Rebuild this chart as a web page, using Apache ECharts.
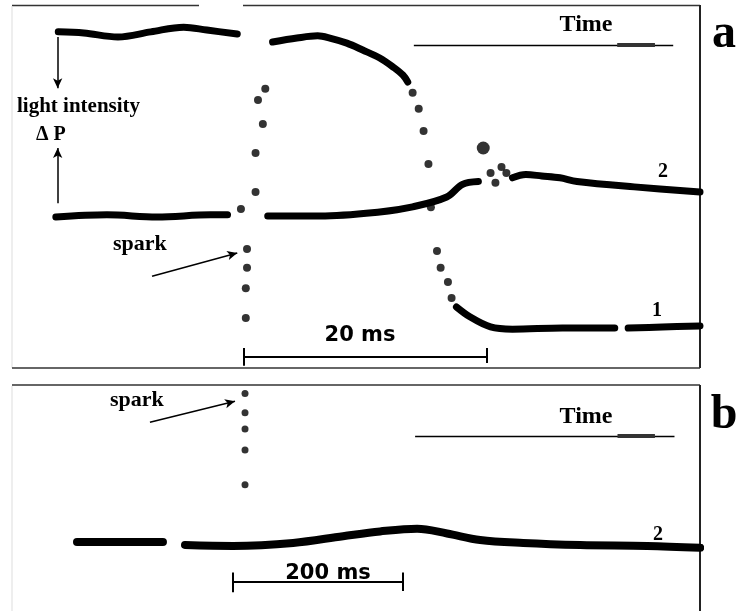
<!DOCTYPE html>
<html>
<head>
<meta charset="utf-8">
<script src="https://cdn.jsdelivr.net/npm/echarts@6/dist/echarts.min.js"></script>
<style>
html,body{margin:0;padding:0;background:#fff;}
#chart{width:736px;height:611px;}
</style>
</head>
<body>
<div id="chart"></div>
<script>
// ---------- Panel a (time in ms, light intensity in arbitrary units) ----------
const trace1BeforeA = [[-15.2,92.6],[-13.1,92.3],[-10.3,91.2],[-7.6,92.6],[-4.9,93.9],[-3.0,93.1],[-0.5,92.0]];
const trace1AfterA  = [[2.4,89.8],[4.4,90.9],[6.1,91.5],[7.1,90.9],[8.5,89.5],[9.8,87.6],[11.2,85.4],[12.3,82.9],[13.1,80.7],[13.5,78.8]];
const trace1FallDotsA = [[13.9,75.8],[14.4,71.4],[14.8,65.3],[15.2,56.2],[15.9,32.2],[16.2,27.6],[16.8,23.7],[17.1,19.3]];
const trace1LowA  = [[17.5,16.8],[18.6,14.1],[20.3,11.3],[22.1,10.7],[26.2,11.0],[30.5,11.0]];
const trace1LowA2 = [[31.6,11.0],[34.4,11.3],[37.5,11.6]];
const sparkDotsA  = [[1.8,76.9],[1.2,73.8],[1.6,67.2],[1.0,59.2],[1.0,48.5],[-0.2,43.8],[0.3,32.8],[0.3,27.6],[0.2,22.0],[0.2,13.8]];
const trace2BeforeA = [[-15.4,41.6],[-11.2,42.2],[-7.1,41.6],[-2.7,42.2],[-1.3,42.2]];
const trace2AfterA  = [[2.0,41.9],[6.3,41.9],[11.2,43.0],[13.9,44.4],[16.7,47.1],[18.0,50.6],[19.3,51.4]];
const trace2DotsA   = [[15.4,44.3],[20.3,53.7],[20.7,51.0],[21.2,55.4],[21.6,53.7]];
const trace2BigDotA = [[19.7,60.6]];
const trace2TailA   = [[22.1,52.4],[23.2,53.3],[24.5,52.9],[26.0,52.4],[27.4,51.4],[32.1,49.9],[37.5,48.5]];
const scaleBarA = [0, 20];      // ms
const timeArrowA = [14, 35.3];  // ms

// ---------- Panel b ----------
const trace2BeforeB = [[-197.6,30.5],[-96.5,30.5]];
const trace2AfterB  = [[-70.6,29.2],[-14.1,28.8],[56.5,30.1],[115.3,33.1],[158.8,35.2],[202.4,36.4],[237.6,34.3],[276.5,31.4],[327.1,30.1],[394.1,29.2],[472.9,28.8],[535.3,28.0]];
const sparkDotsB    = [[0,96.2],[0,87.7],[0,80.5],[0,71.2],[0,55.9]];
const scaleBarB = [-15, 185];   // ms
const timeArrowB = [200, 505];  // ms

const SERIF = '"Liberation Serif","Times New Roman",serif';
const SANS = '"DejaVu Sans",Verdana,sans-serif';

function lineSeries(data, xi, w) {
  return {
    type: 'line', data: data, xAxisIndex: xi, yAxisIndex: xi,
    smooth: 0.35, showSymbol: false, silent: true,
    lineStyle: {color: '#000', width: w, cap: 'round', join: 'round'}
  };
}
function dotSeries(data, xi, size) {
  return {
    type: 'scatter', data: data, xAxisIndex: xi, yAxisIndex: xi,
    symbolSize: size, silent: true, itemStyle: {color: '#000'}
  };
}
function seg(x1, y1, x2, y2, style) {
  const a = {coord: [x1, y1]};
  if (style) a.lineStyle = style;
  return [a, {coord: [x2, y2]}];
}

const chart = echarts.init(document.getElementById('chart'));
chart.setOption({
  animation: false,
  backgroundColor: '#fff',
  grid: [
    {left: 12, top: 5, width: 688, height: 363},
    {left: 12, top: 385, width: 688, height: 236}
  ],
  xAxis: [
    {type: 'value', gridIndex: 0, min: -19, max: 37.5, show: false},
    {type: 'value', gridIndex: 1, min: -274, max: 535, show: false}
  ],
  yAxis: [
    {type: 'value', gridIndex: 0, min: 0, max: 100, show: false},
    {type: 'value', gridIndex: 1, min: 0, max: 100, show: false}
  ],
  series: [
    lineSeries(trace1BeforeA, 0, 7),
    lineSeries(trace1AfterA, 0, 7),
    lineSeries(trace1LowA, 0, 7),
    lineSeries(trace1LowA2, 0, 7),
    lineSeries(trace2BeforeA, 0, 7),
    lineSeries(trace2AfterA, 0, 7),
    lineSeries(trace2TailA, 0, 7),
    dotSeries(trace1FallDotsA, 0, 8),
    dotSeries(sparkDotsA, 0, 8),
    dotSeries(trace2DotsA, 0, 8),
    dotSeries(trace2BigDotA, 0, 13),
    lineSeries(trace2BeforeB, 1, 8),
    lineSeries(trace2AfterB, 1, 8),
    dotSeries(sparkDotsB, 1, 7),
    // annotations panel a
    {
      type: 'line', data: [], xAxisIndex: 0, yAxisIndex: 0, silent: true,
      markLine: {
        silent: true, symbol: 'none', label: {show: false},
        lineStyle: {color: '#000', width: 2, type: 'solid'},
        data: [
          seg(scaleBarA[0], 3.0, scaleBarA[1], 3.0),
          seg(scaleBarA[0], 5.5, scaleBarA[0], 0.6),
          seg(scaleBarA[1], 5.5, scaleBarA[1], 1.4),
          seg(timeArrowA[0], 89.0, timeArrowA[1], 89.0, {width: 1.3, color: '#000', type: 'solid'}),
          seg(30.7, 89.0, 33.8, 89.0, {width: 4, color: '#333', type: 'solid'})
        ]
      }
    },
    {
      type: 'line', data: [], xAxisIndex: 0, yAxisIndex: 0, silent: true,
      markLine: {
        silent: true, symbol: ['none', 'arrow'], symbolSize: [7, 10], label: {show: false},
        lineStyle: {color: '#000', width: 1.5, type: 'solid'},
        data: [
          seg(-15.25, 91.2, -15.25, 77.1),
          seg(-15.25, 45.4, -15.25, 60.6),
          seg(-7.5, 25.3, -0.5, 31.7)
        ]
      }
    },
    // annotations panel b
    {
      type: 'line', data: [], xAxisIndex: 1, yAxisIndex: 1, silent: true,
      markLine: {
        silent: true, symbol: 'none', label: {show: false},
        lineStyle: {color: '#000', width: 2, type: 'solid'},
        data: [
          seg(scaleBarB[0], 13.1, scaleBarB[1], 13.1),
          seg(scaleBarB[0], 17.0, scaleBarB[0], 8.3),
          seg(scaleBarB[1], 17.0, scaleBarB[1], 8.9),
          seg(timeArrowB[0], 77.5, timeArrowB[1], 77.5, {width: 1.3, color: '#000', type: 'solid'}),
          seg(438, 77.5, 482, 77.5, {width: 4, color: '#333', type: 'solid'})
        ]
      }
    },
    {
      type: 'line', data: [], xAxisIndex: 1, yAxisIndex: 1, silent: true,
      markLine: {
        silent: true, symbol: ['none', 'arrow'], symbolSize: [7, 10], label: {show: false},
        lineStyle: {color: '#000', width: 1.5, type: 'solid'},
        data: [ seg(-111.8, 83.5, -11.8, 92.8) ]
      }
    }
  ],
  graphic: [
    // frames
    {type: 'line', shape: {x1: 12, y1: 5.5, x2: 199, y2: 5.5}, style: {stroke: '#333', lineWidth: 1.6}, silent: true},
    {type: 'line', shape: {x1: 243, y1: 5.5, x2: 700, y2: 5.5}, style: {stroke: '#333', lineWidth: 1.6}, silent: true},
    {type: 'line', shape: {x1: 12, y1: 6, x2: 12, y2: 368}, style: {stroke: '#ddd', lineWidth: 1}, silent: true},
    {type: 'line', shape: {x1: 700, y1: 5, x2: 700, y2: 368}, style: {stroke: '#222', lineWidth: 2}, silent: true},
    {type: 'line', shape: {x1: 12, y1: 368, x2: 700, y2: 368}, style: {stroke: '#333', lineWidth: 1.6}, silent: true},
    {type: 'line', shape: {x1: 12, y1: 385, x2: 700, y2: 385}, style: {stroke: '#333', lineWidth: 1.6}, silent: true},
    {type: 'line', shape: {x1: 12, y1: 386, x2: 12, y2: 611}, style: {stroke: '#ddd', lineWidth: 1}, silent: true},
    {type: 'line', shape: {x1: 700, y1: 385, x2: 700, y2: 611}, style: {stroke: '#222', lineWidth: 2}, silent: true},
    // texts
    {type: 'text', style: {x: 586, y: 25, text: 'Time', font: 'bold 24px ' + SERIF, fill: '#000', textAlign: 'center', textVerticalAlign: 'middle'}},
    {type: 'text', style: {x: 586, y: 417, text: 'Time', font: 'bold 24px ' + SERIF, fill: '#000', textAlign: 'center', textVerticalAlign: 'middle'}},
    {type: 'text', style: {x: 724, y: 35, text: 'a', font: 'bold 48px ' + SERIF, fill: '#000', textAlign: 'center', textVerticalAlign: 'middle'}},
    {type: 'text', style: {x: 724, y: 416, text: 'b', font: 'bold 48px ' + SERIF, fill: '#000', textAlign: 'center', textVerticalAlign: 'middle'}},
    {type: 'text', style: {x: 17, y: 107, text: 'light intensity', font: 'bold 21px ' + SERIF, fill: '#000', textAlign: 'left', textVerticalAlign: 'middle'}},
    {type: 'text', style: {x: 36, y: 135, text: 'Δ P', font: 'bold 20px ' + SERIF, fill: '#000', textAlign: 'left', textVerticalAlign: 'middle'}},
    {type: 'text', style: {x: 113, y: 244, text: 'spark', font: 'bold 22px ' + SERIF, fill: '#000', textAlign: 'left', textVerticalAlign: 'middle'}},
    {type: 'text', style: {x: 110, y: 400, text: 'spark', font: 'bold 22px ' + SERIF, fill: '#000', textAlign: 'left', textVerticalAlign: 'middle'}},
    {type: 'text', style: {x: 360, y: 336, text: '20 ms', font: 'bold 21px ' + SANS, fill: '#000', textAlign: 'center', textVerticalAlign: 'middle'}},
    {type: 'text', style: {x: 328, y: 574, text: '200 ms', font: 'bold 21px ' + SANS, fill: '#000', textAlign: 'center', textVerticalAlign: 'middle'}},
    {type: 'text', style: {x: 663, y: 172, text: '2', font: 'bold 20px ' + SERIF, fill: '#000', textAlign: 'center', textVerticalAlign: 'middle'}},
    {type: 'text', style: {x: 657, y: 311, text: '1', font: 'bold 20px ' + SERIF, fill: '#000', textAlign: 'center', textVerticalAlign: 'middle'}},
    {type: 'text', style: {x: 658, y: 535, text: '2', font: 'bold 20px ' + SERIF, fill: '#000', textAlign: 'center', textVerticalAlign: 'middle'}}
  ]
});
</script>
</body>
</html>
